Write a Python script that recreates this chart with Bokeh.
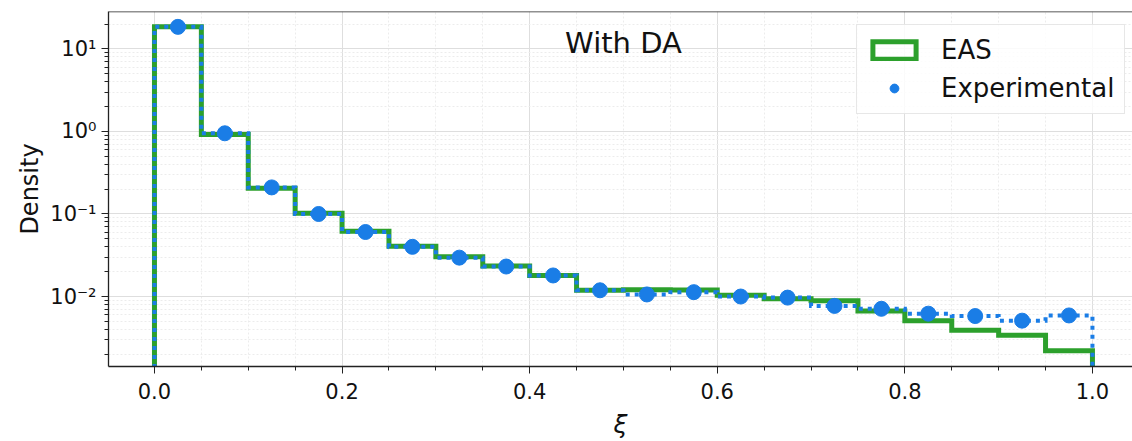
import numpy as np
from bokeh.plotting import figure
from bokeh.models import (FixedTicker, PrintfTickFormatter, Range1d, Label, Legend,
                          LegendItem, Span)
from bokeh.embed import file_html
from bokeh.resources import INLINE

# ---- data ----
bin_edges = [0.0, 0.05, 0.10, 0.15, 0.20, 0.25, 0.30, 0.35, 0.40, 0.45, 0.50,
             0.55, 0.60, 0.65, 0.70, 0.75, 0.80, 0.85, 0.90, 0.95, 1.0]
eas_density = [18.5, 0.92, 0.205, 0.102, 0.0616, 0.0408, 0.0304, 0.0235, 0.018, 0.0119,
               0.0121, 0.0120, 0.0104, 0.0094, 0.0089, 0.0067, 0.0051, 0.0039, 0.0034, 0.0022]
exp_density = [18.5, 0.95, 0.21, 0.10, 0.0605, 0.040, 0.0296, 0.0231, 0.018, 0.0119,
               0.0106, 0.0113, 0.0100, 0.0097, 0.0077, 0.0071, 0.0062, 0.0058, 0.0051, 0.0059]
x_major_ticks = [0.0, 0.2, 0.4, 0.6, 0.8, 1.0]
y_major_ticks = [0.01, 0.1, 1.0, 10.0]
y_tick_labels = {0.01: "10\u207b\u00b2", 0.1: "10\u207b\u00b9", 1.0: "10\u2070", 10.0: "10\u00b9"}

GREEN = "#2ca02c"
BLUE = "#1a7de6"
FONT = "DejaVu Sans"

Y_MIN, Y_MAX = 0.00142, 28.4
X_MIN, X_MAX = -0.049, 1.0427


def step_xy(edges, vals, base):
    xs, ys = [edges[0]], [base]
    for i, v in enumerate(vals):
        xs += [edges[i], edges[i + 1]]
        ys += [v, v]
    xs.append(edges[-1])
    ys.append(base)
    return xs, ys


p = figure(width=1132, height=441, y_axis_type="log", output_backend="svg",
           toolbar_location=None, x_range=Range1d(X_MIN, X_MAX),
           y_range=Range1d(Y_MIN, Y_MAX),
           min_border_left=108, min_border_right=0, min_border_top=11, min_border_bottom=70)
p.outline_line_color = None
p.background_fill_color = "white"
p.border_fill_color = "white"

# grids
for g in (p.xgrid, p.ygrid):
    g.grid_line_color = "#dedede"
    g.grid_line_width = 1
    g.minor_grid_line_color = "#ececec"
    g.minor_grid_line_dash = "2 2"
    g.minor_grid_line_width = 1

# ticks
x_minor = [round(0.05 * i, 2) for i in range(-1, 22)]
p.xaxis.ticker = FixedTicker(ticks=x_major_ticks, minor_ticks=x_minor)
p.xaxis.formatter = PrintfTickFormatter(format="%.1f")
y_minor = []
for dec in [0.001, 0.01, 0.1, 1.0, 10.0]:
    for m in range(2, 10):
        y_minor.append(m * dec)
p.yaxis.ticker = FixedTicker(ticks=y_major_ticks, minor_ticks=y_minor)
p.yaxis.major_label_overrides = y_tick_labels

for ax in (p.xaxis, p.yaxis):
    ax.axis_line_color = "#222222"
    ax.axis_line_width = 1.3
    ax.major_tick_line_color = "#222222"
    ax.minor_tick_line_color = "#222222"
    ax.major_tick_in = 0
    ax.major_tick_out = 7
    ax.minor_tick_in = 0
    ax.minor_tick_out = 4
    ax.major_label_text_font = FONT
    ax.major_label_text_font_size = "21px"
    ax.major_label_text_color = "#111111"
    ax.axis_label_text_font = FONT
    ax.axis_label_text_color = "#111111"

p.yaxis.axis_label = "Density"
p.yaxis.axis_label_text_font_size = "24px"
p.yaxis.axis_label_text_font_style = "normal"
p.yaxis.axis_label_standoff = 3
p.xaxis.axis_label = "\u03be"
p.xaxis.axis_label_text_font_size = "25px"
p.xaxis.axis_label_text_font_style = "italic"
p.xaxis.axis_label_standoff = 8
p.xaxis.major_label_standoff = 9

# top spine
p.add_layout(Span(location=Y_MAX, dimension="width", line_color="#222222", line_width=1.3))

# step histograms (EAS as an unfilled patch so its legend glyph is a rectangle)
ex, ey = step_xy(bin_edges, eas_density, Y_MIN * 0.1)
eas_r = p.patch(ex, ey, fill_color=None, line_color=GREEN, line_width=5, line_join="miter")
bx, by = step_xy(bin_edges, exp_density, Y_MIN * 0.1)
p.line(bx, by, line_color=BLUE, line_width=4, line_dash="4 5", line_join="miter")

centers = [(bin_edges[i] + bin_edges[i + 1]) / 2 for i in range(len(exp_density))]
dots = p.scatter(centers, exp_density, size=15, color=BLUE, line_color=BLUE)

legend = Legend(items=[LegendItem(label="EAS", renderers=[eas_r]),
                       LegendItem(label="Experimental", renderers=[dots])],
                location=(748, 252))
legend.label_text_font = FONT
legend.label_text_font_size = "26px"
legend.label_text_color = "#111111"
legend.glyph_width = 54
legend.glyph_height = 22
legend.label_standoff = 20
legend.spacing = 8
legend.padding = 10
legend.border_line_color = "#d0d0d0"
legend.border_line_width = 1
legend.background_fill_alpha = 0.85
p.add_layout(legend)

# title inside
p.add_layout(Label(x=0.5, y=324, y_units="screen", text="With DA", text_align="center",
                   text_baseline="middle", text_font=FONT, text_font_size="29px",
                   text_color="#111111"))

open("out.html", "w").write(file_html(p, INLINE))
